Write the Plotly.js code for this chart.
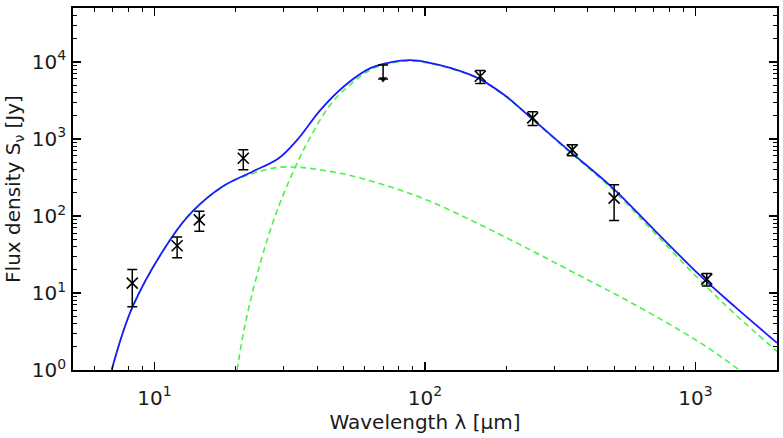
<!DOCTYPE html>
<html>
<head>
<meta charset="utf-8">
<script src="https://cdn.plot.ly/plotly-3.0.1.min.js"></script>
<style>
  html, body { margin: 0; padding: 0; background: #fff; }
  #chart { width: 783px; height: 438px; }
</style>
</head>
<body>
<div id="chart"></div>
<script>
// ---- Observed photometry (wavelength in µm, flux density in Jy) ----
const obsWavelength = [8.28, 12.13, 14.65, 21.3, 160, 250, 350, 500, 1100];
const obsFlux       = [13.4, 41, 89, 560, 6500, 1870, 720, 170, 15.1];
const obsError      = [6.8, 12.3, 25.7, 162, 1250, 380, 118, 83, 2.75];

// ---- Upper limit ----
const ulWavelength = [70];
const ulFlux       = [9100];
const ulArrowTip   = [5970];

// ---- Total model (blue) ----
const totalWavelength = [6.95, 8.3, 11.6, 13.8, 17.8, 23, 28.8, 33.7, 41.1, 50.1, 62.8, 75, 88, 103, 125, 157, 200, 240, 338, 488, 700, 1045, 1400, 2000];
const totalFlux       = [1, 6.6, 52.9, 114, 240, 375, 561, 970, 2380, 4790, 8280, 9900, 10500, 9800, 8280, 6140, 3540, 2045, 719, 240, 67, 16.5, 6.6, 2.25];

// ---- Warm component (green dashed) ----
const warmWavelength = [6.95, 8.3, 11.6, 13.8, 17.8, 23, 28.8, 33.3, 37.2, 50.8, 73.4, 103, 157, 240, 367, 562, 859, 1136, 1468];
const warmFlux       = [1, 6.6, 52.9, 114, 238, 355, 428, 429, 416, 346, 242, 158, 79.4, 37.6, 17.3, 7.9, 3.4, 1.85, 0.97];

// ---- Cold component (green dashed) ----
const coldWavelength = [20.2, 21.46, 23.36, 25.43, 28.46, 33.25, 37.78, 44.76, 53.03, 62.85, 75, 88, 103, 125, 157, 200, 240, 338, 488, 700, 1045, 1400, 2000];
const coldFlux       = [1, 3.41, 12.3, 36.2, 120, 440, 1071, 2805, 5100, 7870, 9650, 10300, 9640, 8120, 6060, 3480, 2010, 700, 229, 62, 14.3, 5.3, 1.75];

// ---- Axis ticks ----
const xTickVals = [10, 100, 1000];
const xTickText = ['10<sup>1</sup>', '10<sup>2</sup>', '10<sup>3</sup>'];
const yTickVals = [1, 10, 100, 1000, 10000];
const yTickText = ['10<sup>0</sup>', '10<sup>1</sup>', '10<sup>2</sup>', '10<sup>3</sup>', '10<sup>4</sup>'];

function minorTicks(lo, hi) {
  const out = [];
  for (let e = lo; e <= hi; e++) {
    for (let m = 2; m <= 9; m++) out.push(m * Math.pow(10, e));
  }
  return out;
}

const green = '#4af24a';
const traces = [
  {
    x: warmWavelength, y: warmFlux, type: 'scatter', mode: 'lines',
    line: { color: green, width: 1.6, dash: '6px,4px', shape: 'spline', smoothing: 1 },
    hoverinfo: 'skip', showlegend: false
  },
  {
    x: coldWavelength, y: coldFlux, type: 'scatter', mode: 'lines',
    line: { color: green, width: 1.6, dash: '6px,4px', shape: 'spline', smoothing: 1 },
    hoverinfo: 'skip', showlegend: false
  },
  {
    x: totalWavelength, y: totalFlux, type: 'scatter', mode: 'lines',
    line: { color: '#1a1aff', width: 1.8, shape: 'spline', smoothing: 1 },
    hoverinfo: 'skip', showlegend: false
  },
  {
    x: obsWavelength, y: obsFlux, type: 'scatter', mode: 'markers',
    marker: { symbol: 'x-thin-open', size: 11, color: '#000', line: { color: '#000', width: 1.6 } },
    error_y: { type: 'data', array: obsError, visible: true, color: '#000', thickness: 1.5, width: 5 },
    showlegend: false
  },
  {
    x: ulWavelength, y: ulArrowTip, type: 'scatter', mode: 'markers',
    marker: { symbol: 'triangle-down', size: 7, color: '#000' },
    error_y: {
      type: 'data', symmetric: false, visible: true,
      array: ulFlux.map((v, i) => v - ulArrowTip[i]),
      arrayminus: ulFlux.map(() => 0),
      color: '#000', thickness: 1.5, width: 5
    },
    showlegend: false
  }
];

const axisCommon = {
  type: 'log',
  showgrid: false,
  zeroline: false,
  showline: true,
  linecolor: '#000',
  linewidth: 1.8,
  mirror: 'allticks',
  ticks: 'inside',
  ticklen: 8,
  tickwidth: 1.5,
  tickcolor: '#000',
  tickmode: 'array',
  tickfont: { family: 'DejaVu Sans', size: 20, color: '#1a1a1a' }
};

const layout = {
  width: 783,
  height: 438,
  margin: { l: 73, r: 6, t: 8, b: 68 },
  paper_bgcolor: '#fff',
  plot_bgcolor: '#fff',
  font: { family: 'DejaVu Sans', color: '#1a1a1a' },
  xaxis: Object.assign({}, axisCommon, {
    range: [Math.log10(5), Math.log10(2000)],
    tickvals: xTickVals,
    ticktext: xTickText,
    ticklabelstandoff: 9,
    minor: { tickmode: 'array', tickvals: minorTicks(0, 3), ticks: 'inside', ticklen: 4, tickwidth: 1, tickcolor: '#000' },
    title: { text: 'Wavelength λ [µm]', font: { family: 'DejaVu Sans', size: 20, color: '#1a1a1a' }, standoff: 4 }
  }),
  yaxis: Object.assign({}, axisCommon, {
    range: [0, Math.log10(50000)],
    tickvals: yTickVals,
    ticktext: yTickText,
    ticklabelstandoff: 1,
    minor: { tickmode: 'array', tickvals: minorTicks(0, 4), ticks: 'inside', ticklen: 4, tickwidth: 1, tickcolor: '#000' },
    title: { text: 'Flux density S<sub>ν</sub> [Jy]', font: { family: 'DejaVu Sans', size: 20, color: '#1a1a1a' }, standoff: 6 }
  })
};

Plotly.newPlot('chart', traces, layout, { staticPlot: true, displayModeBar: false });
</script>
</body>
</html>
